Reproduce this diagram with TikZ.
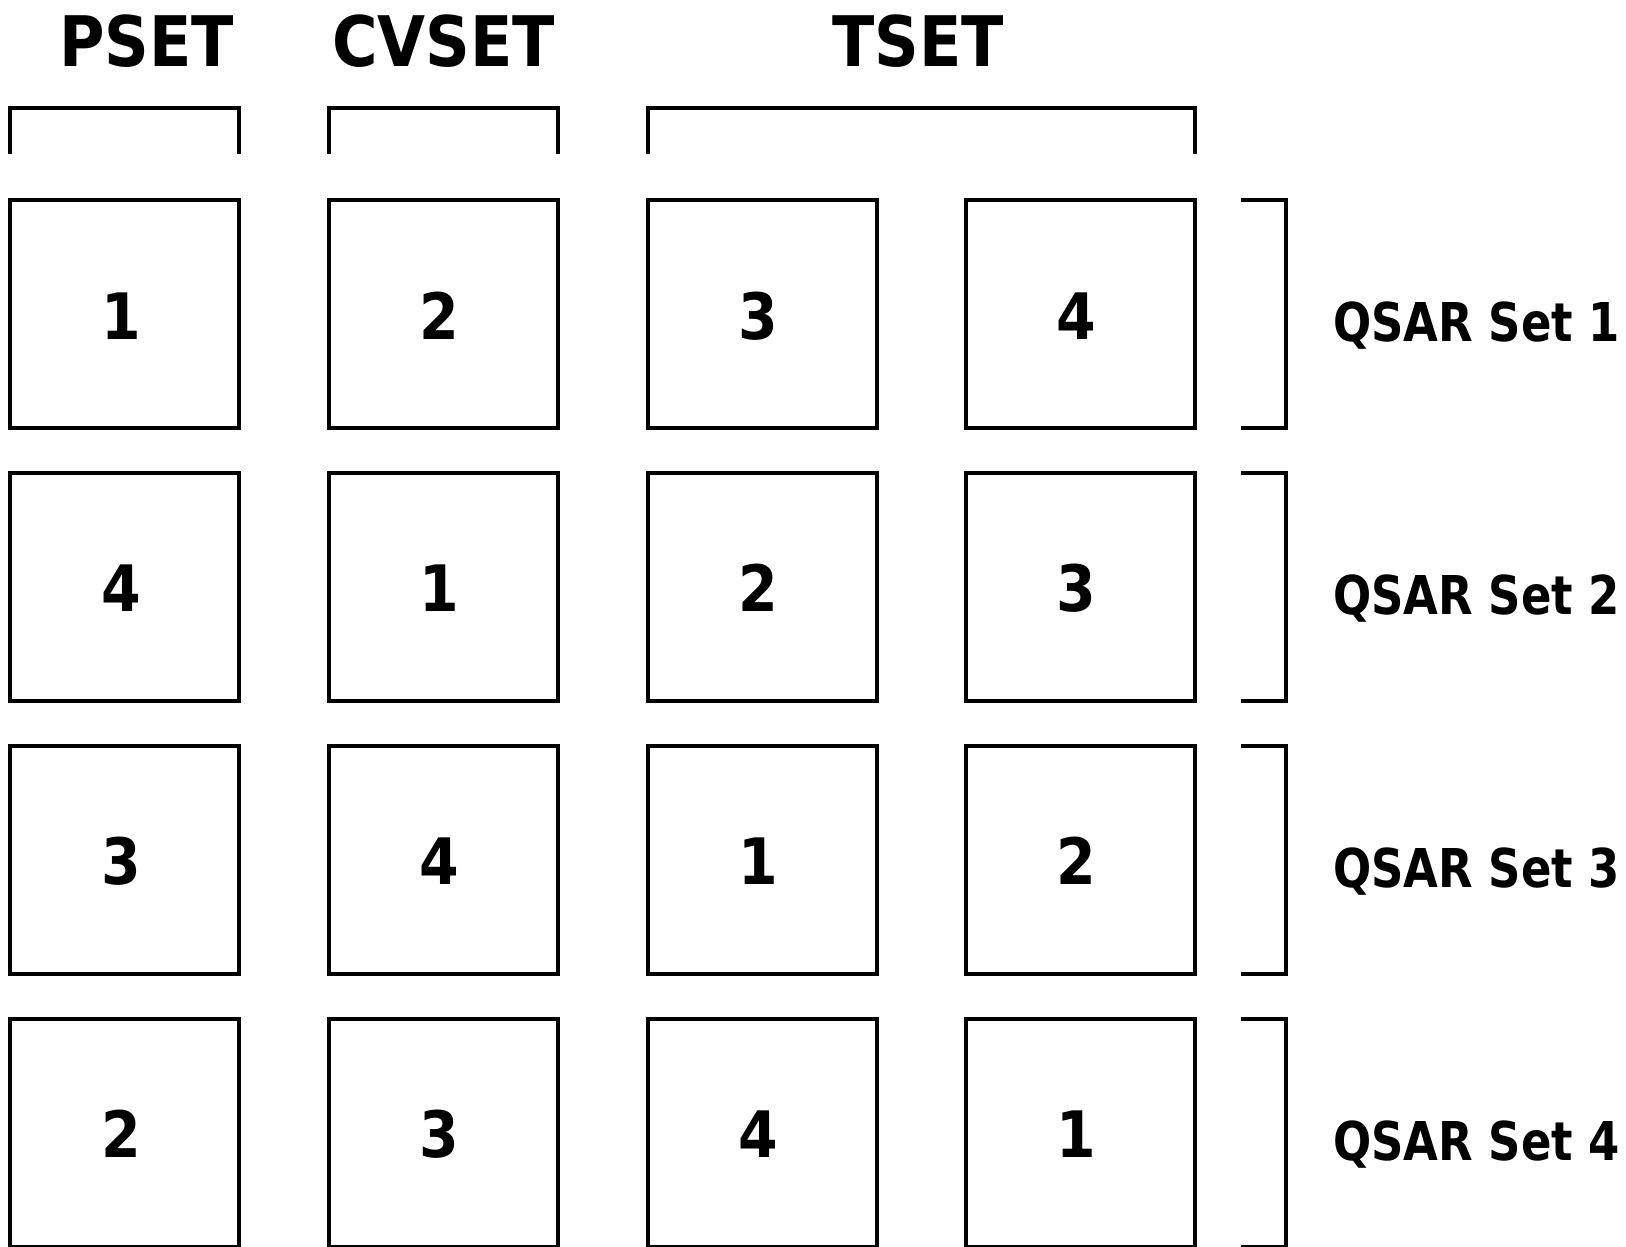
\documentclass[tikz,border=0pt]{standalone}
\usepackage{fontspec}
\newfontfamily\headfont[FakeStretch=0.89]{DejaVu Sans Bold}
\newfontfamily\setfont[FakeStretch=0.84]{DejaVu Sans Bold}
\begin{document}
\begin{tikzpicture}[x=1pt,y=-1pt,
  cell/.style={draw,line width=4pt,minimum width=229pt,minimum height=228.2pt,inner sep=0pt,outer sep=0pt,anchor=north west},
  digit/.style={font=\headfont\fontsize{64}{64}\selectfont,inner sep=0pt,anchor=base},
  title/.style={font=\headfont\fontsize{69.7}{69.7}\selectfont,inner sep=0pt,anchor=base},
  setlabel/.style={font=\setfont\fontsize{53.5}{53.5}\selectfont,inner sep=0pt,anchor=base west},
  bracket/.style={line width=4pt}]
\useasboundingbox (0,0) rectangle (1626,1247);

% column titles
\node[title] (tp) at (146.7,66.4) {PSET};
\node[title] (tcv) at (443.8,66.4) {CVSET};
\node[title] (tt) at (918.3,66.4) {TSET};

% brackets under the titles
\draw[bracket] (10.4,153.5) -- (10.4,107.8) -- (239.4,107.8) -- (239.4,153.5);
\draw[bracket] (329.0,153.5) -- (329.0,107.8) -- (558.0,107.8) -- (558.0,153.5);
\draw[bracket] (647.6,153.5) -- (647.6,107.8) -- (1194.8,107.8) -- (1194.8,153.5);

% grid of cells: row r, column c, number shown
\foreach \r/\a/\b/\c/\d in {1/1/2/3/4, 2/4/1/2/3, 3/3/4/1/2, 4/2/3/4/1}{
  \pgfmathsetmacro{\top}{200.1+(\r-1)*272.8}
  \foreach \col/\n in {1/\a, 2/\b, 3/\c, 4/\d}{
    \pgfmathsetmacro{\left}{10.4+(\col-1)*318.6}
    \node[cell] (b\r\col) at (\left,\top) {};
    \node[digit] (n\r\col) at (\left+110.5,\top+139) {\n};
  }
  % right-hand bracket and set label
  \draw[bracket] (1241.3,\top) -- (1285.9,\top) -- (1285.9,\top+228.2) -- (1241.3,\top+228.2);
  \node[setlabel] (q\r) at (1333,\top+141.6) {QSAR Set \r};
}
\end{tikzpicture}
\end{document}
